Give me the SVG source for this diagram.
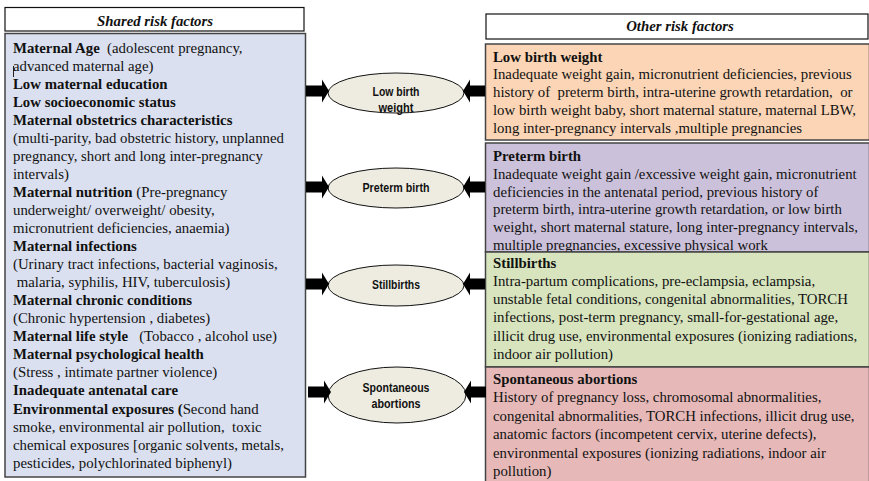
<svg xmlns="http://www.w3.org/2000/svg" width="869" height="481" viewBox="0 0 869 481">
  <style>
    .t { font-family: "Liberation Serif", "Times New Roman", serif; font-size: 14.8px; fill: #111; white-space: pre; }
    .b { font-weight: bold; }
    .hd { font-family: "Liberation Serif", "Times New Roman", serif; font-size: 14.8px; font-weight: bold; font-style: italic; fill: #111; text-anchor: middle; }
    .head { fill: #ffffff; stroke: #111; stroke-width: 1.2; }
    .panel { stroke: #444; stroke-width: 1.5; }
    .oval { fill: #eeece1; stroke: #111; stroke-width: 1; }
    .ot { font-family: "Liberation Sans", Arial, sans-serif; font-size: 12.6px; font-weight: bold; fill: #111; text-anchor: middle; }
    .arr { fill: #000; }
  </style>

  <!-- Shared risk factors column -->
  <g id="shared-header">
    <rect class="head" x="5" y="7.5" width="299" height="23.5"/>
    <text class="hd" x="155" y="25.5">Shared risk factors</text>
  </g>

  <g id="shared-factors">
    <rect class="panel" x="5" y="33.5" width="300.5" height="443.5" fill="#dae0ef"/>
    <line x1="13.5" y1="66" x2="13.5" y2="77" stroke="#222" stroke-width="1"/>
    <text class="t" x="13">
      <tspan x="13" y="52.5"><tspan class="b">Maternal Age </tspan> (adolescent pregnancy,</tspan>
      <tspan x="13" y="70.5">advanced maternal age)</tspan>
      <tspan x="13" y="88.6" class="b">Low maternal education</tspan>
      <tspan x="13" y="106.6" class="b">Low socioeconomic status</tspan>
      <tspan x="13" y="124.7" class="b">Maternal obstetrics characteristics</tspan>
      <tspan x="13" y="142.7">(multi-parity, bad obstetric history, unplanned</tspan>
      <tspan x="13" y="160.8">pregnancy, short and long inter-pregnancy</tspan>
      <tspan x="13" y="178.8">intervals)</tspan>
      <tspan x="13" y="196.9"><tspan class="b">Maternal nutrition</tspan> (Pre-pregnancy</tspan>
      <tspan x="13" y="214.9">underweight/ overweight/ obesity,</tspan>
      <tspan x="13" y="233">micronutrient deficiencies, anaemia)</tspan>
      <tspan x="13" y="251" class="b">Maternal infections</tspan>
      <tspan x="13" y="269.1">(Urinary tract infections, bacterial vaginosis,</tspan>
      <tspan x="13" y="287.1"> malaria, syphilis, HIV, tuberculosis)</tspan>
      <tspan x="13" y="305.2" class="b">Maternal chronic conditions</tspan>
      <tspan x="13" y="323.2">(Chronic hypertension , diabetes)</tspan>
      <tspan x="13" y="341.3"><tspan class="b">Maternal life style</tspan>   (Tobacco , alcohol use)</tspan>
      <tspan x="13" y="359.3" class="b">Maternal psychological health</tspan>
      <tspan x="13" y="377.4">(Stress , intimate partner violence)</tspan>
      <tspan x="13" y="395.4" class="b">Inadequate antenatal care</tspan>
      <tspan x="13" y="413.5"><tspan class="b">Environmental exposures (</tspan>Second hand</tspan>
      <tspan x="13" y="431.5">smoke, environmental air pollution,  toxic</tspan>
      <tspan x="13" y="449.6">chemical exposures [organic solvents, metals,</tspan>
      <tspan x="13" y="467.6">pesticides, polychlorinated biphenyl)</tspan>
    </text>
  </g>

  <!-- Outcomes -->
  <g id="outcome-lbw">
    <ellipse class="oval" cx="396" cy="93" rx="68" ry="20"/>
    <text class="ot" x="396" y="96" textLength="47" lengthAdjust="spacingAndGlyphs">Low birth</text>
    <text class="ot" x="396" y="111.5" textLength="35" lengthAdjust="spacingAndGlyphs">weight</text>
  </g>
  <g id="outcome-preterm">
    <ellipse class="oval" cx="396" cy="188" rx="68" ry="20"/>
    <text class="ot" x="396" y="191.5" textLength="67" lengthAdjust="spacingAndGlyphs">Preterm birth</text>
  </g>
  <g id="outcome-stillbirths">
    <ellipse class="oval" cx="396" cy="285.5" rx="68" ry="20.5"/>
    <text class="ot" x="396" y="288.5" textLength="48" lengthAdjust="spacingAndGlyphs">Stillbirths</text>
  </g>
  <g id="outcome-abortions">
    <ellipse class="oval" cx="397" cy="395" rx="69" ry="28"/>
    <text class="ot" x="396" y="391.5" textLength="67" lengthAdjust="spacingAndGlyphs">Spontaneous</text>
    <text class="ot" x="396" y="407.5" textLength="49" lengthAdjust="spacingAndGlyphs">abortions</text>
  </g>

  <!-- Other risk factors column -->
  <g id="other-header">
    <rect class="head" x="486" y="14" width="382" height="25"/>
    <text class="hd" x="680" y="31">Other risk factors</text>
  </g>

  <g id="other-lbw">
    <rect class="panel" x="485.5" y="44" width="384" height="96" fill="#fbd5b5"/>
    <text class="t">
      <tspan x="493" y="61.5" class="b">Low birth weight</tspan>
      <tspan x="493" y="79.4">Inadequate weight gain, micronutrient deficiencies, previous</tspan>
      <tspan x="493" y="97.3">history of  preterm birth, intra-uterine growth retardation,  or</tspan>
      <tspan x="493" y="115.2">low birth weight baby, short maternal stature, maternal LBW,</tspan>
      <tspan x="493" y="133.1">long inter-pregnancy intervals ,multiple pregnancies</tspan>
    </text>
  </g>

  <g id="other-preterm">
    <rect class="panel" x="485.5" y="143" width="384" height="109" fill="#ccc1da"/>
    <text class="t">
      <tspan x="493" y="161" class="b">Preterm birth</tspan>
      <tspan x="493" y="178.8">Inadequate weight gain /excessive weight gain, micronutrient</tspan>
      <tspan x="493" y="196.6">deficiencies in the antenatal period, previous history of</tspan>
      <tspan x="493" y="214.4">preterm birth, intra-uterine growth retardation, or low birth</tspan>
      <tspan x="493" y="232.2">weight, short maternal stature, long inter-pregnancy intervals,</tspan>
      <tspan x="493" y="250">multiple pregnancies, excessive physical work</tspan>
    </text>
  </g>

  <g id="other-stillbirths">
    <rect class="panel" x="485.5" y="252" width="384" height="115" fill="#d7e4bd"/>
    <text class="t">
      <tspan x="493" y="267.5" class="b">Stillbirths</tspan>
      <tspan x="493" y="285.8">Intra-partum complications, pre-eclampsia, eclampsia,</tspan>
      <tspan x="493" y="304.1">unstable fetal conditions, congenital abnormalities, TORCH</tspan>
      <tspan x="493" y="322.4">infections, post-term pregnancy, small-for-gestational age,</tspan>
      <tspan x="493" y="340.7">illicit drug use, environmental exposures (ionizing radiations,</tspan>
      <tspan x="493" y="359">indoor air pollution)</tspan>
    </text>
  </g>

  <g id="other-abortions">
    <rect class="panel" x="485.5" y="367" width="384" height="115" fill="#e6b9b8"/>
    <text class="t">
      <tspan x="493" y="384" class="b">Spontaneous abortions</tspan>
      <tspan x="493" y="402.4">History of pregnancy loss, chromosomal abnormalities,</tspan>
      <tspan x="493" y="420.8">congenital abnormalities, TORCH infections, illicit drug use,</tspan>
      <tspan x="493" y="439.2">anatomic factors (incompetent cervix, uterine defects),</tspan>
      <tspan x="493" y="457.6">environmental exposures (ionizing radiations, indoor air</tspan>
      <tspan x="493" y="476">pollution)</tspan>
    </text>
  </g>

  <!-- Block arrows pointing into each outcome from both columns -->
  <defs>
    <path id="arrow-in-left" d="M0,-5.5 H16 V-11.5 L23,0 L16,11.5 V5.5 H0 Z"/>
    <path id="arrow-in-right" d="M0,-5.5 H-15 V-11.5 L-22,0 L-15,11.5 V5.5 H0 Z"/>
  </defs>
  <g id="connectors" class="arr">
    <use href="#arrow-in-left" x="306" y="91"/>
    <use href="#arrow-in-right" x="485" y="91"/>
    <use href="#arrow-in-left" x="306" y="187"/>
    <use href="#arrow-in-right" x="485" y="187"/>
    <use href="#arrow-in-left" x="306" y="284"/>
    <use href="#arrow-in-right" x="485" y="284"/>
    <use href="#arrow-in-left" x="308" y="392"/>
    <use href="#arrow-in-right" x="486" y="392"/>
  </g>
</svg>
